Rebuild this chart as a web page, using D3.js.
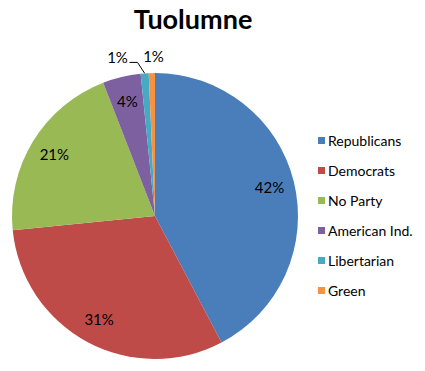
<!DOCTYPE html>
<html>
<head>
  <title>Tuolumne</title>
  <script src="https://d3js.org/d3.v7.min.js"></script>
  <style type="text/css">
    body { margin: 0; background: white; }
    text { font-family: Lato, "Open Sans", sans-serif; fill: #000; }
  </style>
</head>
<body>
  <div id="chart"></div>
  <script>
    // party registration shares
    var parties = ['Republicans', 'Democrats', 'No Party', 'American Ind.', 'Libertarian', 'Green'];
    var shares = [42.3, 31.1, 20.7, 4.3, 0.9, 0.7];
    var labels = ['42%', '31%', '21%', '4%', '1%', '1%'];
    var colors = ['#4A7EBB', '#BE4B48', '#98B954', '#7D60A0', '#46AAC5', '#F69240'];

    var width = 425, height = 371;
    var cx = 155, cy = 216, radius = 143;

    var svg = d3.select('#chart').append('svg')
      .attr('width', width)
      .attr('height', height);

    svg.append('text')
      .text('Tuolumne')
      .attr('x', 193)
      .attr('y', 29)
      .attr('text-anchor', 'middle')
      .style('font-size', '27px')
      .style('font-weight', 'bold');

    var pie = d3.pie().sort(null).value(function(d) { return d; });
    var arcs = pie(shares);
    var arc = d3.arc().innerRadius(0).outerRadius(radius);
    var labelArc = d3.arc().innerRadius(118).outerRadius(118);
    var outerArc = d3.arc().innerRadius(radius + 16).outerRadius(radius + 16);

    var g = svg.append('g').attr('transform', 'translate(' + cx + ',' + cy + ')');

    g.selectAll('path')
      .data(arcs)
      .enter().append('path')
      .attr('d', arc)
      .attr('fill', function(d, i) { return colors[i]; });

    // inside labels for the big slices
    g.selectAll('text.inner')
      .data(arcs.filter(function(d) { return d.data > 3; }))
      .enter().append('text')
      .attr('class', 'inner')
      .attr('transform', function(d) { return 'translate(' + labelArc.centroid(d) + ')'; })
      .attr('text-anchor', 'middle')
      .attr('dy', '0.35em')
      .style('font-size', '15px')
      .text(function(d) { return labels[d.index]; });

    // the two tiny slices get labels outside, Libertarian pushed left with a leader
    var lib = arcs[4], green = arcs[5];
    var libEdge = d3.arc().innerRadius(radius).outerRadius(radius).centroid(lib);
    var libOut = outerArc.centroid(lib);
    var libTextX = libOut[0] - 26;

    g.append('polyline')
      .attr('points', [
        [libTextX + 12, libOut[1] + 5],
        [libTextX + 20, libOut[1] + 5],
        libEdge
      ].map(function(p) { return p.join(','); }).join(' '))
      .attr('fill', 'none')
      .attr('stroke', '#000')
      .attr('stroke-width', 1);

    g.append('text')
      .attr('x', libTextX)
      .attr('y', libOut[1])
      .attr('text-anchor', 'middle')
      .attr('dy', '0.35em')
      .style('font-size', '15px')
      .text(labels[4]);

    var greenOut = outerArc.centroid(green);
    g.append('text')
      .attr('x', greenOut[0] + 2)
      .attr('y', greenOut[1])
      .attr('text-anchor', 'middle')
      .attr('dy', '0.35em')
      .style('font-size', '15px')
      .text(labels[5]);

    // legend
    var legendY = d3.scalePoint().domain(parties).range([141, 291]);
    var legend = svg.append('g');
    var rows = legend.selectAll('g')
      .data(parties)
      .enter().append('g')
      .attr('transform', function(d) { return 'translate(318,' + legendY(d) + ')'; });

    rows.append('rect')
      .attr('x', 0)
      .attr('y', -4)
      .attr('width', 7)
      .attr('height', 7)
      .attr('fill', function(d, i) { return colors[i]; });

    rows.append('text')
      .attr('x', 10)
      .attr('dy', '0.35em')
      .style('font-size', '14px')
      .text(function(d) { return d; });
  </script>
</body>
</html>
